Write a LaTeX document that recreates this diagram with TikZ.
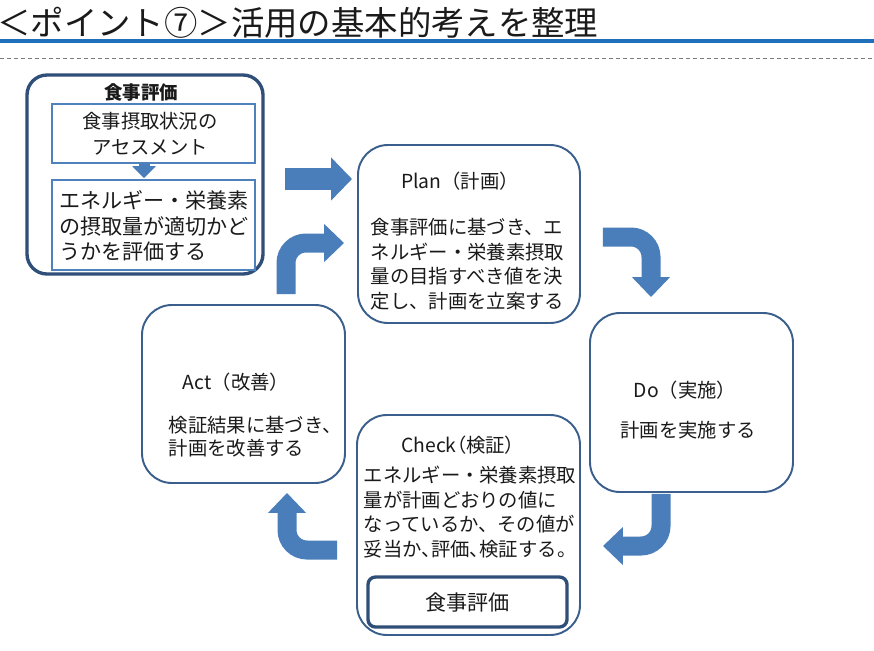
\documentclass[tikz,border=0pt]{standalone}
\usepackage{fontspec}
\setmainfont{Noto Sans CJK JP}
\newfontfamily\jpp[RawFeature=+palt]{Noto Sans CJK JP}
\usepackage{tikz}
\usetikzlibrary{arrows.meta,calc}
\definecolor{linec}{HTML}{3B5F8C}
\definecolor{darkc}{HTML}{2F4E78}
\definecolor{innc}{HTML}{4F81BD}
\definecolor{arrc}{HTML}{4A7EBB}
\definecolor{barc}{HTML}{1F6FBA}
\definecolor{dashc}{HTML}{7A7A7A}
\definecolor{txtc}{HTML}{1A1A1A}
\tikzset{
  rbox/.style={draw=linec,line width=1.1pt,rounded corners=6mm,fill=white},
  obox/.style={draw=darkc,line width=1.9pt,rounded corners=4mm,fill=white},
  ibox/.style={draw=innc,line width=1pt},
  fbox/.style={draw=darkc,line width=1.9pt,rounded corners=1.5mm,inner sep=0pt,font=\fontsize{12}{14}\selectfont,text=txtc},
  hd/.style={font=\fontsize{11}{14}\selectfont,text=txtc,inner sep=0pt},
  txt/.style={font=\fontsize{11}{14}\selectfont,text=txtc,align=left,inner sep=0pt},
  blk/.style={draw=arrc,line width=3.8mm,rounded corners=4mm,-{Triangle[length=4mm,width=7.4mm]}},
  dashln/.style={draw=dashc,line width=0.5pt,dash pattern=on 0.8mm off 0.6mm},
}

\begin{document}
\begin{tikzpicture}[x=0.2mm,y=-0.2mm]
  \fill[white] (0,0) rectangle (874,650);
  \useasboundingbox (0,0) rectangle (874,650);
  % heading
  \node[anchor=west,inner sep=0pt,font=\fontsize{19}{21}\selectfont,text=txtc] (ttl) at (-3,23) {＜ポイント⑦＞活用の基本的考えを整理};
  \draw[barc,line width=2pt] (0,41) -- (874,41);
  \draw[dashln] (0,58) -- (874,58);
  % food evaluation
  \node[obox,minimum width=47.2mm,minimum height=39.8mm] (food) at (145,174.5) {};
  \node[hd,font=\fontsize{10.5}{13}\selectfont\bfseries] at (141,92) {食事評価};
  \node[ibox,minimum width=40.6mm,minimum height=11.8mm] (asmt) at (153.5,133.5) {};
  \node[ibox,minimum width=40.6mm,minimum height=18mm] (judge) at (153.5,225) {};
  \node[txt,align=center,font=\fontsize{11}{15}\selectfont] at (150,133.5) {食事摂取状況の\\アセスメント};
  \node[txt,font=\fontsize{12}{14.7}\selectfont] at (154,226) {エネルギー・栄養素\\の摂取量が適切かど\\うかを評価する};
  \draw[blk,line width=2.2mm,-{Triangle[length=2.4mm,width=4.6mm]}] ($(asmt.south)+(-9.5,0)$) -- ($(judge.north)+(-9.5,-1)$);
  % plan
  \node[rbox,minimum width=44.4mm,minimum height=35.6mm] (plan) at (469,234) {};
  \node[hd] at (460,181) {Plan（計画）};
  \node[txt] at (467.5,264) {食事評価に基づき、エ\\ネルギー・栄養素摂取\\量の目指すべき値を決\\定し、計画を立案する};
  % do
  \node[rbox,minimum width=40.6mm,minimum height=35.8mm] (do) at (691.5,402.5) {};
  \node[hd] at (685,390) {Do（実施）};
  \node[hd] at (688,430) {計画を実施する};
  % act
  \node[rbox,minimum width=40.6mm,minimum height=35.6mm] (act) at (243.5,394) {};
  \node[hd] at (236,382) {Act（改善）};
  \node[txt,font=\fontsize{11}{13}\selectfont] at (255,436.5) {検証結果に基づき、\\計画を改善する};
  % check
  \node[rbox,minimum width=44.6mm,minimum height=44mm] (check) at (468.5,525) {};
  \node[hd,font=\fontsize{11}{14}\selectfont\jpp] at (458,445) {Check（検証）};
  \node[txt] at (470,512) {エネルギー・栄養素摂取\\量が計画どおりの値に\\なっているか、その値が\\妥当か{\jpp 、}評価{\jpp 、}検証する{\jpp 。}};
  \node[fbox,minimum width=39.8mm,minimum height=10mm] (cfood) at (467.5,602) {食事評価};
  % cycle arrows
  \coordinate (s1) at ($(food.east)+(20,4.5)$);
  \draw[blk,line width=4.4mm,-{Triangle[length=4.2mm,width=8.4mm]}] (s1) -- ($(s1 -| plan.west)+(-5,0)$);
  \draw[blk] ($(act.north)+(42.5,-10)$) |- ($(plan.west)+(-13,9)$);
  \draw[blk] ($(plan.east)+(22,3)$) -| ($(do.north)+(-40.5,-15)$);
  \draw[blk] ($(do.south)+(-30.5,1)$) |- ($(check.east)+(22,21)$);
  \draw[blk] ($(check.west)+(-19,25)$) -| ($(act.south)+(43.5,9)$);
\end{tikzpicture}
\end{document}
